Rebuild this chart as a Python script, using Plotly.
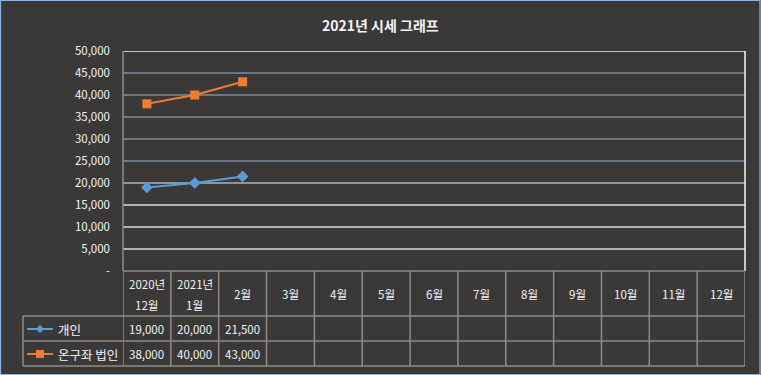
import plotly.graph_objects as go

# ---- data ----
categories = ["2020년<br>12월", "2021년<br>1월", "2월", "3월", "4월", "5월", "6월",
              "7월", "8월", "9월", "10월", "11월", "12월"]
series_names = ["개인", "온구좌 법인"]
personal = [19000, 20000, 21500]
corporate = [38000, 40000, 43000]
y_ticks = [0, 5000, 10000, 15000, 20000, 25000, 30000, 35000, 40000, 45000, 50000]
y_tick_labels = ["-", "5,000", "10,000", "15,000", "20,000", "25,000", "30,000",
                 "35,000", "40,000", "45,000", "50,000"]
title_text = "2021년 시세 그래프"

# ---- style ----
W, H = 761, 375
L, R, T, B = 123, 16, 51, 104
PW, PH = W - L - R, H - T - B
BG = "#3b3937"
TXT = "#f2f4f8"
TABLE = "#8c8b88"
BLUE = "#5b9bd5"
ORANGE = "#ed7d31"
FONT = "Noto Sans CJK KR, Noto Sans, sans-serif"


def px(xpix):
    return (xpix - L) / PW


def py(ypix):
    return (H - B - ypix) / PH


series = [personal, corporate]
colors = [BLUE, ORANGE]
symbols = ["diamond", "square"]
sizes = [9, 9]

fig = go.Figure()
for name, vals, c, s, sz in zip(series_names, series, colors, symbols, sizes):
    fig.add_trace(go.Scatter(
        x=list(range(len(vals))), y=vals, mode="lines+markers", name=name,
        line=dict(color=c, width=2), marker=dict(symbol=s, size=sz, color=c),
        showlegend=False, cliponaxis=False))

shapes = []
annotations = []

# gridlines with Excel-like varied colours
grid_colors = {0: None, 5000: "#d6dce6", 10000: "#d6dce6", 15000: "#d6dce6",
               20000: "#aab5c6", 25000: "#7e8a9b", 30000: "#7e8a9b",
               35000: "#7e8a9b", 40000: "#7e8a9b", 45000: "#7e8a9b",
               50000: "#eef3fb"}
for v in y_ticks:
    gc = grid_colors.get(v)
    if gc:
        shapes.append(dict(type="line", xref="paper", yref="y", x0=0, x1=1, y0=v, y1=v,
                           line=dict(color=gc, width=1.5), layer="below"))
# right plot border (white)
shapes.append(dict(type="line", xref="paper", yref="paper", x0=1, x1=1, y0=0, y1=1,
                   line=dict(color="#f4f6fa", width=1.5)))

n = len(categories)
y_hdr_top = 0
y_r1 = py(316)
y_r2 = py(341)
y_r3 = py(366)
x_left = px(23)

# table vertical lines
for k in range(n + 1):
    shapes.append(dict(type="line", xref="x", yref="paper", x0=k - 0.5, x1=k - 0.5,
                       y0=y_r3, y1=y_hdr_top, line=dict(color=TABLE, width=1.5)))
shapes.append(dict(type="line", xref="paper", yref="paper", x0=x_left, x1=x_left,
                   y0=y_r3, y1=y_r1, line=dict(color=TABLE, width=1.5)))
# horizontal lines
shapes.append(dict(type="line", xref="paper", yref="paper", x0=0, x1=1,
                   y0=0, y1=0, line=dict(color=TABLE, width=1.5)))
shapes.append(dict(type="line", xref="paper", yref="paper", x0=0, x1=0,
                   y0=0, y1=1, line=dict(color=TABLE, width=1.5)))
for yy in (y_r1, y_r2, y_r3):
    shapes.append(dict(type="line", xref="paper", yref="paper", x0=x_left, x1=1,
                       y0=yy, y1=yy, line=dict(color=TABLE, width=1.5)))

# header labels (multi-line labels split with Excel-like line spacing)
for k, cat in enumerate(categories):
    parts = cat.split("<br>")
    if len(parts) == 1:
        ys = [294]
    else:
        ys = [284, 305]
    for part, yy in zip(parts, ys):
        annotations.append(dict(x=k, y=py(yy), xref="x", yref="paper", text=part,
                                showarrow=False, font=dict(size=11.5, color=TXT, family=FONT),
                                xanchor="center", yanchor="middle", align="center"))

# rows
row_y = [py(329), py(354)]
for vals, ry in zip(series, row_y):
    for k, v in enumerate(vals):
        annotations.append(dict(x=k, y=ry, xref="x", yref="paper", text=f"{v:,}",
                                showarrow=False, font=dict(size=11.5, color=TXT, family=FONT),
                                xanchor="center", yanchor="middle"))

# legend keys inside table
for name, c, s, ry in zip(series_names, colors, symbols, row_y):
    shapes.append(dict(type="line", xref="paper", yref="paper", x0=px(27), x1=px(53),
                       y0=ry, y1=ry, line=dict(color=c, width=2)))
    cx, cy = 40, H - B - ry * PH
    if s == "square":
        shapes.append(dict(type="rect", xref="paper", yref="paper",
                           x0=px(cx - 4), x1=px(cx + 4), y0=py(cy - 4), y1=py(cy + 4),
                           fillcolor=c, line=dict(width=0)))
    else:
        path = (f"M {px(cx - 4)},{py(cy)} L {px(cx)},{py(cy - 4)} "
                f"L {px(cx + 4)},{py(cy)} L {px(cx)},{py(cy + 4)} Z")
        shapes.append(dict(type="path", xref="paper", yref="paper", path=path,
                           fillcolor=c, line=dict(width=0)))
    annotations.append(dict(x=px(56), y=ry, xref="paper", yref="paper", text=name,
                            showarrow=False, font=dict(size=12.5, color=TXT, family=FONT),
                            xanchor="left", yanchor="middle"))

# outer border
shapes.append(dict(type="rect", xref="paper", yref="paper",
                   x0=px(0.5), x1=px(760), y0=py(374.5), y1=py(0.5),
                   line=dict(color="#8fb4e3", width=1.2), layer="below"))

annotations.append(dict(x=px(380.5), y=py(25), xref="paper", yref="paper", text=f"<b>{title_text}</b>",
                        showarrow=False, font=dict(size=14, color=TXT, family=FONT),
                        xanchor="center", yanchor="middle"))

fig.update_layout(
    width=W, height=H,
    margin=dict(l=L, r=R, t=T, b=B),
    paper_bgcolor=BG, plot_bgcolor=BG,
    shapes=shapes, annotations=annotations,
    xaxis=dict(range=[-0.5, n - 0.5], showticklabels=False, showgrid=False,
               zeroline=False, showline=False, fixedrange=True),
    yaxis=dict(range=[0, 50000], tickvals=y_ticks, ticktext=y_tick_labels,
               showgrid=False, zeroline=False, showline=False,
               tickfont=dict(size=11.5, color=TXT, family=FONT),
               ticklabelstandoff=12, fixedrange=True),
    font=dict(family=FONT, color=TXT),
)

fig.write_html("out.html", config={"displayModeBar": False},
               post_script="document.body.style.margin='0';document.body.style.background='" + BG + "';")
